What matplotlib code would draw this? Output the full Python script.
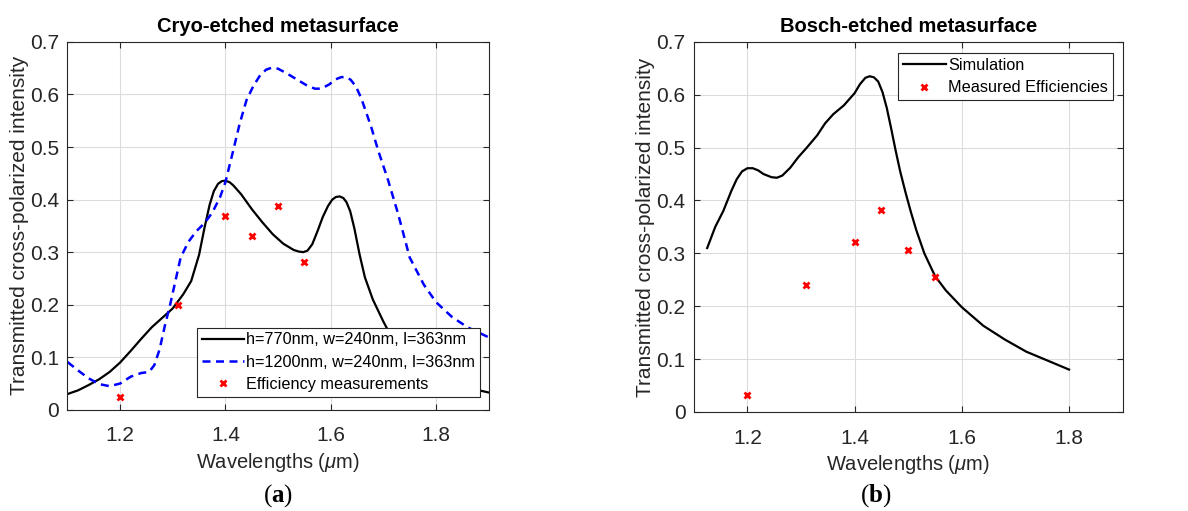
import matplotlib
matplotlib.use("Agg")
import matplotlib.pyplot as plt

plt.rcParams['font.family'] = ['Liberation Sans', 'DejaVu Sans']
plt.rcParams['mathtext.fontset'] = 'custom'
plt.rcParams['mathtext.rm'] = 'Liberation Serif'
plt.rcParams['mathtext.bf'] = 'Liberation Serif:bold'
plt.rcParams['mathtext.it'] = 'Liberation Sans:italic'

# ---- data (a) cryo-etched ----
wl_770 = [1.10, 1.12, 1.14, 1.16, 1.18, 1.20, 1.22, 1.24, 1.26, 1.28, 1.30, 1.32,
          1.335, 1.35, 1.36, 1.37, 1.378, 1.386, 1.393, 1.40, 1.408, 1.415, 1.43, 1.45,
          1.47, 1.49, 1.51, 1.53, 1.54, 1.548, 1.556, 1.565, 1.575, 1.585, 1.595, 1.603,
          1.61, 1.617, 1.624, 1.63, 1.637, 1.645, 1.655, 1.665, 1.68, 1.70, 1.72, 1.75,
          1.78, 1.82, 1.86, 1.90]
t_770 = [0.030, 0.037, 0.047, 0.058, 0.072, 0.090, 0.112, 0.135, 0.157, 0.175, 0.193, 0.220,
         0.245, 0.295, 0.345, 0.390, 0.416, 0.430, 0.435, 0.436, 0.433, 0.427, 0.410, 0.382,
         0.357, 0.334, 0.316, 0.304, 0.301, 0.300, 0.303, 0.315, 0.340, 0.367, 0.388, 0.400,
         0.405, 0.406, 0.403, 0.395, 0.378, 0.345, 0.295, 0.252, 0.210, 0.168, 0.130, 0.095,
         0.070, 0.052, 0.042, 0.033]

wl_1200 = [1.10, 1.12, 1.14, 1.16, 1.18, 1.20, 1.22, 1.24, 1.255, 1.265, 1.275, 1.285,
           1.295, 1.305, 1.315, 1.33, 1.345, 1.36, 1.375, 1.39, 1.40, 1.415, 1.427, 1.44,
           1.453, 1.465, 1.477, 1.488, 1.50, 1.515, 1.53, 1.555, 1.57, 1.582, 1.597, 1.61,
           1.62, 1.629, 1.638, 1.648, 1.658, 1.677, 1.69, 1.709, 1.728, 1.75, 1.777, 1.80,
           1.83, 1.86, 1.90]
t_1200 = [0.091, 0.075, 0.060, 0.049, 0.045, 0.050, 0.063, 0.070, 0.072, 0.085, 0.115, 0.160,
          0.200, 0.245, 0.290, 0.320, 0.340, 0.355, 0.375, 0.405, 0.433, 0.494, 0.544, 0.589,
          0.616, 0.635, 0.647, 0.651, 0.649, 0.641, 0.632, 0.617, 0.611, 0.611, 0.619, 0.629,
          0.633, 0.633, 0.628, 0.615, 0.593, 0.538, 0.494, 0.437, 0.373, 0.290, 0.238, 0.205,
          0.177, 0.157, 0.138]

wl_meas_a = [1.20, 1.31, 1.40, 1.45, 1.50, 1.55]
eff_meas_a = [0.025, 0.200, 0.368, 0.331, 0.387, 0.281]

# ---- data (b) bosch-etched ----
wl_sim = [1.125, 1.14, 1.155, 1.17, 1.18, 1.19, 1.20, 1.21, 1.22, 1.23, 1.245, 1.255,
          1.265, 1.28, 1.295, 1.31, 1.33, 1.345, 1.36, 1.38, 1.40, 1.41, 1.42, 1.428,
          1.436, 1.444, 1.452, 1.46, 1.468, 1.476, 1.485, 1.495, 1.505, 1.515, 1.53, 1.55,
          1.57, 1.60, 1.64, 1.68, 1.72, 1.76, 1.80]
t_sim = [0.310, 0.350, 0.380, 0.418, 0.440, 0.455, 0.461, 0.461, 0.457, 0.450, 0.444, 0.443,
         0.447, 0.462, 0.482, 0.499, 0.523, 0.546, 0.563, 0.580, 0.603, 0.620, 0.632, 0.635,
         0.633, 0.625, 0.605, 0.575, 0.537, 0.497, 0.455, 0.415, 0.378, 0.344, 0.300, 0.257,
         0.230, 0.198, 0.163, 0.137, 0.114, 0.097, 0.080]

wl_meas_b = [1.20, 1.31, 1.40, 1.45, 1.50, 1.55]
eff_meas_b = [0.031, 0.240, 0.322, 0.382, 0.307, 0.255]

x_ticks = [1.2, 1.4, 1.6, 1.8]
x_ticklabels = ['1.2', '1.4', '1.6', '1.8']
y_ticks = [0, 0.1, 0.2, 0.3, 0.4, 0.5, 0.6, 0.7]
y_ticklabels = ['0', '0.1', '0.2', '0.3', '0.4', '0.5', '0.6', '0.7']

AX_COL = '#262626'


def style_axes(ax, title):
    ax.set_xlim(1.1, 1.9)
    ax.set_ylim(0, 0.7)
    ax.set_xticks(x_ticks)
    ax.set_xticklabels(x_ticklabels)
    ax.set_yticks(y_ticks)
    ax.set_yticklabels(y_ticklabels)
    ax.tick_params(direction='in', top=True, right=True, length=4, width=0.8,
                   labelsize=15, colors=AX_COL, pad=6)
    ax.tick_params(axis='x', pad=12)
    ax.grid(True, color='#dcdcdc', linewidth=0.8)
    ax.set_axisbelow(True)
    for s in ax.spines.values():
        s.set_color(AX_COL)
        s.set_linewidth(0.8)
    ax.set_xlabel(r'Wavelengths ($\mu$m)', fontsize=14.5, color=AX_COL, labelpad=4)
    ax.set_ylabel('Transmitted cross-polarized intensity', fontsize=15,
                  color=AX_COL, labelpad=1)
    ax.set_title(title, fontsize=14.5, fontweight='bold', pad=7)


def legend(ax, **kw):
    leg = ax.legend(fontsize=11.7, fancybox=False, framealpha=1, edgecolor=AX_COL,
                    handlelength=2.6, handletextpad=0.15, borderpad=0.3,
                    labelspacing=0.45, borderaxespad=0, **kw)
    leg.get_frame().set_linewidth(0.8)
    return leg


fig = plt.figure(figsize=(11.88, 5.11), dpi=100)

ax1 = fig.add_axes([0.0568, 0.198, 0.3545, 0.720])
ax1.plot(wl_770, t_770, color='black', linewidth=1.6,
         label='h=770nm, w=240nm, l=363nm')
ax1.plot(wl_1200, t_1200, color='blue', linewidth=1.8, linestyle=(0, (3.2, 2.2)),
         label='h=1200nm, w=240nm, l=363nm')
ax1.plot(wl_meas_a, eff_meas_a, linestyle='none', marker='x', color='red',
         markersize=5, markeredgewidth=2, label='Efficiency measurements')
style_axes(ax1, 'Cryo-etched metasurface')
legend(ax1, loc='lower right', bbox_to_anchor=(0.98, 0.035))

ax2 = fig.add_axes([0.584, 0.194, 0.361, 0.724])
ax2.plot(wl_sim, t_sim, color='black', linewidth=1.6, label='Simulation')
ax2.plot(wl_meas_b, eff_meas_b, linestyle='none', marker='x', color='red',
         markersize=5, markeredgewidth=2, label='Measured Efficiencies')
style_axes(ax2, 'Bosch-etched metasurface')
legend(ax2, loc='upper right', bbox_to_anchor=(0.977, 0.97))

fig.text(0.234, 0.03, r'($\mathbf{a}$)', family='Liberation Serif', fontsize=18,
         ha='center', va='center')
fig.text(0.737, 0.03, r'($\mathbf{b}$)', family='Liberation Serif', fontsize=18,
         ha='center', va='center')

fig.savefig('out.png', dpi=100)
